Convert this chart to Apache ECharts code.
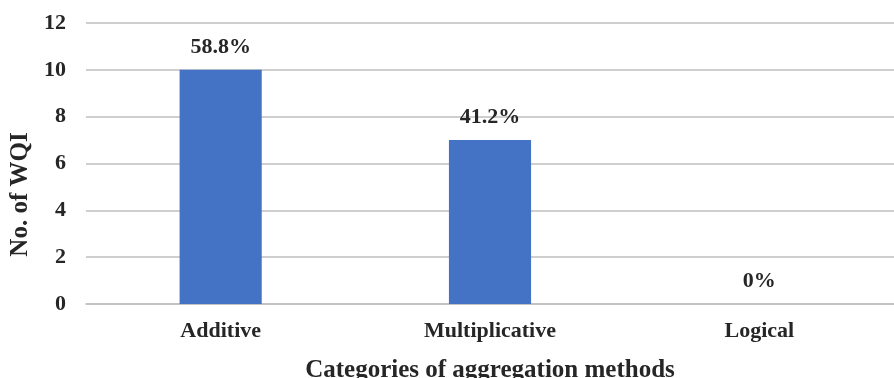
<!DOCTYPE html>
<html>
<head>
<meta charset="utf-8">
<script src="https://cdn.jsdelivr.net/npm/echarts@6/dist/echarts.min.js"></script>
<style>
  html, body { margin: 0; padding: 0; background: #ffffff; }
  #chart { width: 894px; height: 378px; }
</style>
</head>
<body>
<div id="chart"></div>
<script>
// Aggregation method categories and the number of WQIs using each
const categories = ['Additive', 'Multiplicative', 'Logical'];
const wqiCounts = [10, 7, 0];
const shareLabels = ['58.8%', '41.2%', '0%'];
const yTicks = { min: 0, max: 12, interval: 2 };

const font = '"Liberation Serif", "Times New Roman", serif';
const textColor = '#262626';

const chart = echarts.init(document.getElementById('chart'), null, { renderer: 'canvas' });

chart.setOption({
  animation: false,
  backgroundColor: '#ffffff',
  grid: { left: 86, right: 0, top: 23, bottom: 74, containLabel: false, outerBoundsMode: 'none' },
  xAxis: {
    type: 'category',
    data: categories,
    name: 'Categories of aggregation methods',
    nameLocation: 'middle',
    nameGap: 54,
    nameTextStyle: { fontFamily: font, fontWeight: 'bold', fontSize: 25, color: textColor },
    axisLine: { show: true, lineStyle: { color: '#bfbfbf', width: 1.5 } },
    axisTick: { show: false },
    axisLabel: { fontFamily: font, fontWeight: 'bold', fontSize: 22, color: textColor, margin: 16 }
  },
  yAxis: {
    type: 'value',
    min: yTicks.min,
    max: yTicks.max,
    interval: yTicks.interval,
    name: 'No. of WQI',
    nameLocation: 'middle',
    nameGap: 46,
    // shift the rotated title a little below the plot's vertical centre
    nameTextStyle: { fontFamily: font, fontWeight: 'bold', fontSize: 25, color: textColor, padding: [0, 62, 0, 0] },
    axisLine: { show: false },
    axisTick: { show: false },
    axisLabel: { fontFamily: font, fontWeight: 'bold', fontSize: 22, color: textColor, margin: 20 },
    splitLine: { lineStyle: { color: '#bfbfbf', width: 1.5 } }
  },
  series: [{
    type: 'bar',
    data: wqiCounts,
    barWidth: '30.5%',
    itemStyle: { color: '#4472c4' },
    label: {
      show: true,
      position: 'top',
      distance: 12,
      fontFamily: font,
      fontWeight: 'bold',
      fontSize: 22,
      color: textColor,
      formatter: p => shareLabels[p.dataIndex]
    }
  }]
});
</script>
</body>
</html>
